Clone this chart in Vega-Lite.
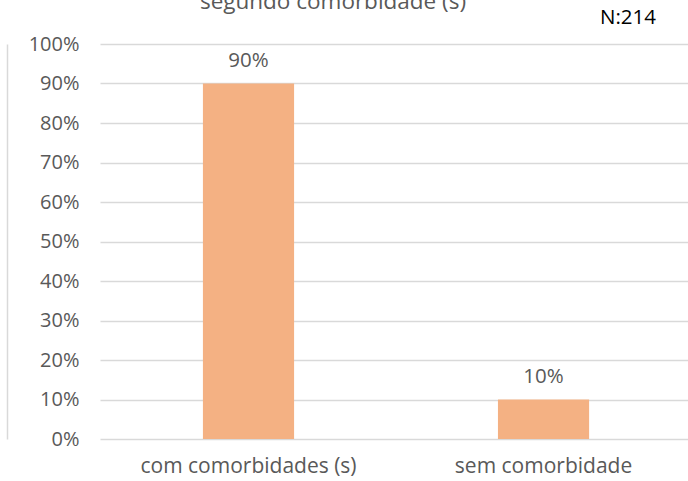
{
  "$schema": "https://vega.github.io/schema/vega-lite/v6.json",
  "autosize": "none",
  "width": 588,
  "height": 395,
  "padding": {"left": 100, "top": 44, "right": 0, "bottom": 42},
  "background": "white",
  "config": {
    "view": {"stroke": null},
    "font": "Open Sans"
  },
  "data": {
    "values": [
      {"categoria": "com comorbidades (s)", "pct": 0.9, "rotulo": "90%"},
      {"categoria": "sem comorbidade", "pct": 0.1, "rotulo": "10%"}
    ]
  },
  "encoding": {
    "x": {
      "field": "categoria",
      "type": "nominal",
      "sort": null,
      "scale": {"paddingInner": 0.691, "paddingOuter": 0.342, "align": 0.51},
      "axis": {
        "title": null,
        "labelAngle": 0,
        "labelFontSize": 21,
        "labelLimit": 0,
        "labelColor": "#595959",
        "labelPadding": 16,
        "ticks": false,
        "domain": false,
        "grid": false
      }
    },
    "y": {
      "field": "pct",
      "type": "quantitative",
      "scale": {"domain": [0, 1]},
      "axis": {
        "title": null,
        "format": ".0%",
        "values": [0, 0.1, 0.2, 0.3, 0.4, 0.5, 0.6, 0.7, 0.8, 0.9, 1],
        "labelFontSize": 20,
        "labelColor": "#595959",
        "labelAlign": "right",
        "labelPadding": -72,
        "offset": 93,
        "ticks": false,
        "domain": true,
        "domainColor": "#D9D9D9",
        "domainWidth": 1.5,
        "gridColor": "#D9D9D9",
        "gridWidth": 1.3
      }
    }
  },
  "layer": [
    {"mark": {"type": "bar", "color": "#F4B183"}},
    {
      "mark": {"type": "text", "baseline": "alphabetic", "dy": -17, "fontSize": 20.5, "color": "#595959"},
      "encoding": {"text": {"field": "rotulo"}}
    },
    {
      "data": {"values": [{"categoria": "sem comorbidade", "pos": 1.066, "nota": "N:214"}]},
      "mark": {"type": "text", "baseline": "middle", "dx": 84.5, "fontSize": 20.5, "color": "#000000"},
      "encoding": {
        "x": {"field": "categoria", "type": "nominal"},
        "y": {"field": "pos", "type": "quantitative"},
        "text": {"field": "nota"}
      }
    },
    {
      "data": {"values": [{"categoria": "com comorbidades (s)", "pos": 1.0886, "titulo": "segundo comorbidade (s)"}]},
      "mark": {"type": "text", "baseline": "alphabetic", "dx": 84.5, "fontSize": 22.5, "color": "#595959"},
      "encoding": {
        "x": {"field": "categoria", "type": "nominal"},
        "y": {"field": "pos", "type": "quantitative"},
        "text": {"field": "titulo"}
      }
    }
  ]
}
